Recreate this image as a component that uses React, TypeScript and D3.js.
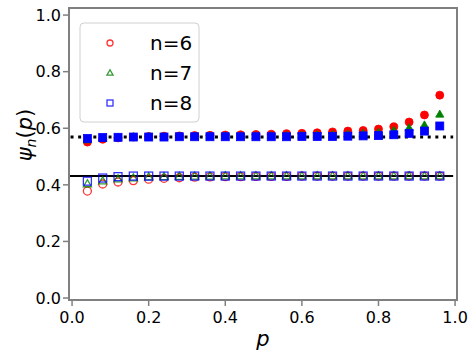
import React from "react";
import * as d3 from "d3";

const pValues = [0.04, 0.08, 0.12, 0.16, 0.2, 0.24, 0.28, 0.32, 0.36, 0.4, 0.44, 0.48, 0.52, 0.56, 0.6, 0.64, 0.68, 0.72, 0.76, 0.8, 0.84, 0.88, 0.92, 0.96];

// filled markers (upper branch)
const upperN6 = [0.551, 0.561, 0.566, 0.569, 0.571, 0.572, 0.573, 0.574, 0.575, 0.576, 0.577, 0.578, 0.579, 0.581, 0.582, 0.584, 0.587, 0.59, 0.592, 0.597, 0.605, 0.622, 0.647, 0.717];
const upperN7 = [0.558, 0.564, 0.567, 0.569, 0.57, 0.57, 0.571, 0.571, 0.572, 0.572, 0.572, 0.573, 0.573, 0.574, 0.575, 0.576, 0.577, 0.579, 0.581, 0.585, 0.592, 0.601, 0.611, 0.649];
const upperN8 = [0.564, 0.567, 0.568, 0.569, 0.569, 0.569, 0.57, 0.57, 0.57, 0.57, 0.57, 0.57, 0.57, 0.57, 0.571, 0.571, 0.571, 0.572, 0.573, 0.574, 0.577, 0.582, 0.59, 0.608];

// open markers (lower branch)
const lowerN6 = [0.378, 0.403, 0.41, 0.415, 0.42, 0.423, 0.425, 0.427, 0.428, 0.429, 0.429, 0.43, 0.43, 0.43, 0.431, 0.431, 0.431, 0.431, 0.431, 0.431, 0.431, 0.431, 0.431, 0.431];
const lowerN7 = [0.403, 0.413, 0.42, 0.424, 0.427, 0.428, 0.429, 0.43, 0.43, 0.431, 0.431, 0.431, 0.431, 0.431, 0.431, 0.431, 0.431, 0.431, 0.431, 0.431, 0.431, 0.431, 0.431, 0.431];
const lowerN8 = [0.413, 0.424, 0.429, 0.431, 0.431, 0.431, 0.431, 0.431, 0.431, 0.431, 0.431, 0.431, 0.431, 0.431, 0.431, 0.431, 0.431, 0.431, 0.431, 0.431, 0.431, 0.431, 0.431, 0.431];

const solidLevel = 0.431;
const dottedLevel = 0.569;

const seriesNames = ["n=6", "n=7", "n=8"];
const seriesColors = ["#ff0000", "#008000", "#0000ff"];
const seriesShapes = ["circle", "triangle", "square"];

const xTicks = [0, 0.2, 0.4, 0.6, 0.8, 1.0];
const yTicks = [0, 0.2, 0.4, 0.6, 0.8, 1.0];

const W = 476;
const H = 360;
const plot = { left: 69, right: 457, top: 8, bottom: 300 };
const font = "'DejaVu Sans', sans-serif";
const spineColor = "#808080";

const Marker = ({ shape, x, y, size, color, filled }) => {
  const common = {
    fill: filled ? color : "none",
    stroke: color,
    strokeWidth: filled ? 0.8 : 1.3,
    strokeOpacity: filled ? 1 : 0.8,
  };
  if (shape === "circle") return <circle cx={x} cy={y} r={size / 2} {...common} />;
  if (shape === "square")
    return <rect x={x - size / 2} y={y - size / 2} width={size} height={size} {...common} />;
  const sym = d3.symbol(d3.symbolTriangle, (size * size) * 0.45)();
  return <path d={sym} transform={`translate(${x},${y + size * 0.05})`} {...common} />;
};

export default function App() {
  const x = d3.scaleLinear().domain([-0.008, 1.005]).range([plot.left, plot.right]);
  const y = d3.scaleLinear().domain([-0.007, 1.025]).range([plot.bottom, plot.top]);

  const upper = [upperN6, upperN7, upperN8];
  const lower = [lowerN6, lowerN7, lowerN8];

  const line = d3.line<[number, number]>().x((d) => x(d[0])).y((d) => y(d[1]));

  return (
    <svg width={W} height={H} style={{ position: "absolute", left: 0, top: 0 }} fontFamily={font}>
      <rect width={W} height={H} fill="#fff" />

      {/* reference lines */}
      <path d={line([[-0.008, solidLevel], [0.995, solidLevel]]) ?? ""} stroke="#000" strokeWidth={2} fill="none" />
      <path
        d={line([[-0.004, dottedLevel], [0.995, dottedLevel]]) ?? ""}
        stroke="#000"
        strokeWidth={3}
        strokeDasharray="3 4.6"
        fill="none"
      />

      {/* open markers */}
      {lower.map((vals, si) =>
        vals.map((v, i) => (
          <Marker key={`l${si}-${i}`} shape={seriesShapes[si]} x={x(pValues[i])} y={y(v)} size={8} color={seriesColors[si]} filled={false} />
        ))
      )}
      {/* filled markers */}
      {upper.map((vals, si) =>
        vals.map((v, i) => (
          <Marker key={`u${si}-${i}`} shape={seriesShapes[si]} x={x(pValues[i])} y={y(v)} size={8} color={seriesColors[si]} filled={true} />
        ))
      )}

      {/* spines */}
      <rect
        x={plot.left}
        y={plot.top}
        width={plot.right - plot.left}
        height={plot.bottom - plot.top}
        fill="none"
        stroke={spineColor}
        strokeWidth={2}
      />

      {/* x ticks */}
      {xTicks.map((t) => (
        <g key={`x${t}`} transform={`translate(${x(t)},${plot.bottom})`}>
          <line y1={1} y2={6} stroke={spineColor} strokeWidth={1.5} />
          <text y={23} textAnchor="middle" fontSize={16} fill="#000">
            {d3.format(".1f")(t)}
          </text>
        </g>
      ))}
      {/* y ticks */}
      {yTicks.map((t) => (
        <g key={`y${t}`} transform={`translate(${plot.left},${y(t)})`}>
          <line x1={-1} x2={-6} stroke={spineColor} strokeWidth={1.5} />
          <text x={-8} dy="0.36em" textAnchor="end" fontSize={16} fill="#000">
            {d3.format(".1f")(t)}
          </text>
        </g>
      ))}

      {/* axis labels */}
      <text x={(plot.left + plot.right) / 2} y={346} textAnchor="middle" fontSize={21} fontStyle="italic">
        p
      </text>
      <text transform="translate(32,135) rotate(-90)" textAnchor="middle" fontSize={21}>
        <tspan fontStyle="italic">ψ</tspan>
        <tspan fontStyle="italic" fontSize={14} dy={4}>n</tspan>
        <tspan dy={-4}>(</tspan>
        <tspan fontStyle="italic">p</tspan>
        <tspan>)</tspan>
      </text>

      {/* legend */}
      <rect x={80} y={23} width={119} height={99} rx={4} fill="#fff" fillOpacity={0.8} stroke="#d0d0d0" strokeWidth={1} />
      {seriesNames.map((name, i) => (
        <g key={name} transform={`translate(0,${43 + i * 30})`}>
          <Marker shape={seriesShapes[i]} x={110} y={0} size={6} color={seriesColors[i]} filled={false} />
          <text x={150} dy="0.36em" fontSize={20} fill="#000">
            {name}
          </text>
        </g>
      ))}
    </svg>
  );
}
